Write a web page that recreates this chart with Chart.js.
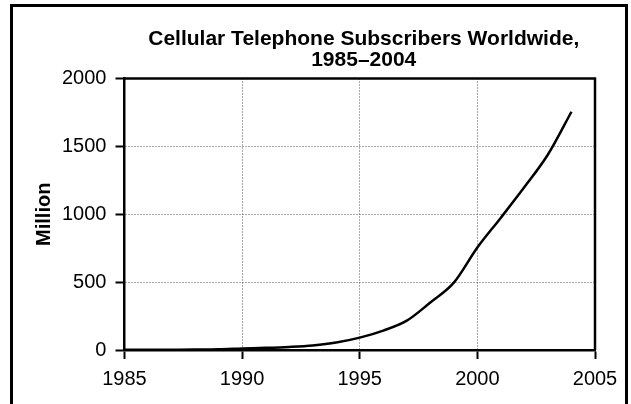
<!DOCTYPE html>
<html>
<head>
<meta charset="utf-8">
<script src="https://cdn.jsdelivr.net/npm/chart.js@4/dist/chart.umd.min.js"></script>
<style>
	html, body { margin: 0; padding: 0; background: #fff; overflow: hidden; }
	#wrap { position: absolute; left: 0; top: 0; width: 631px; height: 404px; }
	#frame { position: absolute; left: 10px; top: 4px; width: 612px; height: 440px; border: 3px solid #000; border-bottom: none; }
</style>
</head>
<body>
<div id="frame"></div>
<div id="wrap"><canvas id="cell-chart"></canvas></div>
<script>
const years = [1985, 1986, 1987, 1988, 1989, 1990, 1991, 1992, 1993, 1994, 1995, 1996, 1997, 1998, 1999, 2000, 2001, 2002, 2003, 2004];
const subscribers = [1, 1, 2, 3, 5, 11, 16, 23, 34, 55, 91, 143, 216, 350, 496, 755, 975, 1200, 1440, 1755];
const titleLines = ['Cellular Telephone Subscribers Worldwide,', '1985–2004'];
const yTitle = 'Million';

const cellChart = document.getElementById('cell-chart');

Chart.defaults.font.family = '"Liberation Sans", Arial, sans-serif';
Chart.defaults.color = '#000';

// solid top/right frame + title centred over the plot
const framePlugin = {
	id: 'frame',
	afterDraw(chart) {
		const { ctx, chartArea: a } = chart;
		ctx.save();
		ctx.strokeStyle = '#000';
		ctx.lineWidth = 2.5;
		ctx.beginPath();
		ctx.moveTo(a.left, a.top);
		ctx.lineTo(a.right, a.top);
		ctx.lineTo(a.right, a.bottom);
		ctx.stroke();
		ctx.fillStyle = '#000';
		ctx.font = 'bold 21px "Liberation Sans", Arial, sans-serif';
		ctx.textAlign = 'center';
		ctx.textBaseline = 'alphabetic';
		const cx = (a.left + a.right) / 2 + 4;
		ctx.fillText(titleLines[0], cx, 45);
		ctx.fillText(titleLines[1], cx, 66);
		ctx.restore();
	}
};

const cellChartInstance = new Chart(cellChart, {
	type: 'line',
	data: {
		datasets: [{
			data: years.map((y, i) => ({ x: y, y: subscribers[i] })),
			borderColor: '#000',
			borderWidth: 2.5,
			pointRadius: 0,
			fill: false,
			cubicInterpolationMode: 'monotone'
		}]
	},
	options: {
		responsive: true,
		maintainAspectRatio: false,
		animation: false,
		layout: { padding: { left: 21, right: 36, top: 78.5, bottom: 5 } },
		plugins: { legend: { display: false }, tooltip: { enabled: false } },
		scales: {
			x: {
				type: 'linear',
				min: 1985,
				max: 2005,
				ticks: { stepSize: 5, padding: 8, font: { size: 20 }, callback: v => String(v) },
				grid: { color: '#555', lineWidth: 1, tickLength: 9, tickColor: '#000', tickWidth: 2, tickBorderDash: [] },
				border: { color: '#000', width: 2.5, dash: [1, 2] }
			},
			y: {
				min: 0,
				max: 2000,
				ticks: { stepSize: 500, padding: 9, font: { size: 20 }, callback: v => String(v) },
				grid: { color: '#555', lineWidth: 1, tickLength: 9, tickColor: '#000', tickWidth: 2, tickBorderDash: [] },
				border: { color: '#000', width: 2.5, dash: [1, 2] },
				title: { display: true, text: yTitle, font: { size: 20, weight: 'bold', lineHeight: 0.9 }, padding: { top: 14, bottom: 0 } }
			}
		}
	},
	plugins: [framePlugin]
});
</script>
</body>
</html>
